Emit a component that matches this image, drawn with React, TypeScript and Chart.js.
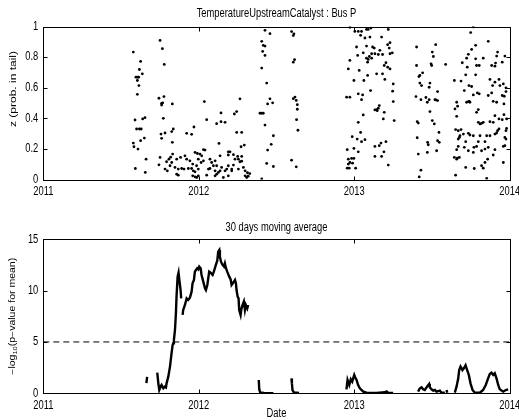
import React, { useEffect, useRef } from "react";
import { Chart, registerables } from "chart.js";

Chart.register(...registerables);

// ---------- data ----------
const topTitle = "TemperatureUpstreamCatalyst : Bus P";
const bottomTitle = "30 days moving average";
const xTickLabels = ["2011", "2012", "2013", "2014"];
const xTickValues = [2011, 2012, 2013, 2014];
const zTickValues = [0, 0.2, 0.4, 0.6, 0.8, 1];
const zTickLabels = ["0", "0.2", "0.4", "0.6", "0.8", "1"];
const pTickValues = [0, 5, 10, 15];
const pTickLabels = ["0", "5", "10", "15"];
const threshold = 5;

// scatter: z (prob. in tail)
const zYears = [
  2011.751, 2011.579, 2011.766, 2011.626, 2011.778, 2011.618, 2011.637, 2011.596, 2011.607, 2011.613,
  2011.605, 2011.615, 2011.605, 2011.744, 2011.776, 2011.761, 2011.768, 2011.761, 2011.830, 2011.590,
  2011.639, 2011.654, 2011.772, 2011.600, 2011.618, 2011.630, 2011.757, 2011.783, 2011.826, 2011.836,
  2011.761, 2011.626, 2011.650, 2011.830, 2011.922, 2011.954, 2011.969, 2011.579, 2011.583, 2011.609,
  2011.976, 2011.991, 2011.832, 2011.751, 2011.808, 2011.819, 2011.661, 2011.858, 2011.883, 2011.911,
  2011.793, 2011.826, 2011.922, 2011.943, 2011.961, 2011.744, 2011.783, 2011.798, 2011.815, 2011.847,
  2011.868, 2011.890, 2011.905, 2011.933, 2011.954, 2011.965, 2011.976, 2011.986, 2011.997, 2011.592,
  2011.656, 2011.858, 2011.868, 2011.961, 2011.976,
  2012.426, 2012.458, 2012.405, 2012.415, 2012.426, 2012.411, 2012.426, 2012.405, 2012.437, 2012.036,
  2012.265, 2012.443, 2012.458, 2012.475, 2012.143, 2012.244, 2012.229, 2012.394, 2012.405, 2012.415,
  2012.051, 2012.115, 2012.143, 2012.169, 2012.426, 2012.244, 2012.276, 2012.480, 2012.130, 2012.272,
  2012.293, 2012.443, 2012.030, 2012.040, 2012.190, 2012.201, 2012.137, 2012.190, 2012.223, 2012.250,
  2012.276, 2012.008, 2012.019, 2011.997, 2012.233, 2012.255, 2012.265, 2012.276, 2012.015, 2012.030,
  2012.072, 2012.083, 2012.105, 2012.094, 2012.115, 2012.147, 2012.180, 2012.190, 2012.212, 2012.223,
  2012.437, 2012.480, 2012.062, 2012.072, 2012.105, 2012.126, 2012.137, 2012.169, 2012.212, 2012.255,
  2012.287, 2012.298, 2012.051, 2012.105, 2012.115, 2012.158, 2012.190, 2012.298, 2012.308, 2011.987,
  2011.997, 2012.405, 2012.318, 2012.328, 2012.313, 2012.466,
  2012.597, 2012.612, 2012.608, 2012.616, 2012.608, 2012.619, 2012.608, 2012.627, 2012.634, 2012.634,
  2012.629, 2012.638, 2012.597, 2012.627,
  2012.972, 2013.004, 2013.026, 2013.047, 2013.079, 2013.090, 2013.107, 2013.219, 2013.041, 2013.069,
  2013.101, 2013.176, 2013.230, 2013.215, 2013.015, 2013.079, 2013.118, 2013.129, 2013.225, 2013.165,
  2013.058, 2013.112, 2013.133, 2013.155, 2013.182, 2013.245, 2013.230, 2013.022, 2013.097, 2013.112,
  2013.079, 2013.090, 2012.972, 2013.086, 2013.204, 2013.193, 2013.215, 2013.230, 2012.962, 2013.032,
  2013.144, 2013.182, 2013.086, 2013.197, 2012.998, 2013.062, 2013.251, 2013.247, 2013.105, 2013.026,
  2013.054, 2012.951, 2012.972, 2013.047, 2013.251, 2013.161, 2013.155, 2013.144, 2013.133, 2013.148,
  2013.193, 2013.058, 2013.187, 2013.026, 2013.257, 2013.041, 2012.987, 2013.019, 2013.069, 2013.047,
  2013.204, 2013.172, 2013.161, 2013.133, 2012.998, 2012.955, 2013.191, 2013.026, 2012.962, 2012.983,
  2012.998, 2013.133, 2013.176, 2012.972, 2012.989, 2012.962, 2012.968, 2013.219, 2012.955, 2013.009,
  2013.401, 2013.401, 2013.422, 2013.440, 2013.416, 2013.422, 2013.433, 2013.482, 2013.397, 2013.429,
  2013.461, 2013.470, 2013.482, 2013.405, 2013.412, 2013.405, 2013.472, 2013.476, 2013.470, 2013.412,
  2013.429, 2013.418,
  2013.524, 2013.502, 2013.509, 2013.494, 2013.498, 2013.588, 2013.487, 2013.536, 2013.519, 2013.536,
  2013.526, 2013.487, 2013.502, 2013.515, 2013.545, 2013.536, 2013.547, 2013.530,
  2013.766, 2013.749, 2013.781, 2013.755, 2013.862, 2013.922, 2013.916, 2013.734, 2013.723, 2013.695,
  2013.727, 2013.781, 2013.787, 2013.804, 2013.830, 2013.952, 2013.969, 2013.884, 2013.905, 2013.909,
  2013.717, 2013.781, 2013.687, 2013.644, 2013.873, 2013.931, 2013.905, 2013.890, 2013.937, 2013.959,
  2013.755, 2013.738, 2013.708, 2013.976, 2013.976, 2013.862, 2013.884, 2013.952, 2013.965, 2013.804,
  2013.792, 2013.766, 2013.723, 2013.734, 2013.740, 2013.744, 2013.659, 2013.894, 2013.916, 2013.963,
  2013.665, 2013.648, 2013.798, 2013.787, 2013.905, 2013.963, 2013.659, 2013.931, 2013.952, 2013.980,
  2013.873, 2013.894, 2013.798, 2013.809, 2013.819, 2013.830, 2013.980, 2013.976, 2013.931, 2013.652,
  2013.669, 2013.687, 2013.702, 2013.680, 2013.676, 2013.669, 2013.734, 2013.744, 2013.766, 2013.809,
  2013.852, 2013.873, 2013.905, 2013.916, 2013.922, 2013.969, 2013.976, 2013.717, 2013.798, 2013.841,
  2013.669, 2013.708, 2013.770, 2013.787, 2013.659, 2013.734, 2013.819, 2013.841, 2013.862, 2013.766,
  2013.905, 2013.969, 2013.959, 2013.644, 2013.663, 2013.676, 2013.659, 2013.894, 2013.858, 2013.841,
  2013.819, 2013.959, 2013.772, 2013.717, 2013.830, 2013.652, 2013.852,
];
const zValues = [
  0.909, 0.833, 0.855, 0.772, 0.752, 0.719, 0.691, 0.669, 0.669, 0.669,
  0.647, 0.614, 0.557, 0.531, 0.542, 0.498, 0.501, 0.487, 0.494, 0.389,
  0.396, 0.404, 0.400, 0.330, 0.330, 0.330, 0.297, 0.304, 0.313, 0.330,
  0.269, 0.254, 0.271, 0.243, 0.302, 0.295, 0.343, 0.238, 0.214, 0.199,
  0.177, 0.170, 0.166, 0.144, 0.133, 0.146, 0.133, 0.133, 0.144, 0.155,
  0.116, 0.111, 0.133, 0.122, 0.101, 0.096, 0.068, 0.057, 0.090, 0.079,
  0.068, 0.072, 0.068, 0.072, 0.072, 0.057, 0.050, 0.090, 0.068, 0.072,
  0.046, 0.035, 0.028, 0.024, 0.017,
  0.975, 0.953, 0.903, 0.876, 0.872, 0.837, 0.811, 0.728, 0.630, 0.509,
  0.527, 0.494, 0.527, 0.501, 0.435, 0.444, 0.428, 0.433, 0.433, 0.433,
  0.391, 0.365, 0.378, 0.374, 0.356, 0.308, 0.308, 0.286, 0.236, 0.214,
  0.225, 0.192, 0.195, 0.192, 0.181, 0.181, 0.155, 0.160, 0.162, 0.151,
  0.151, 0.166, 0.155, 0.133, 0.133, 0.133, 0.116, 0.120, 0.111, 0.122,
  0.133, 0.111, 0.122, 0.090, 0.090, 0.079, 0.068, 0.090, 0.068, 0.094,
  0.105, 0.085, 0.068, 0.072, 0.057, 0.046, 0.057, 0.057, 0.057, 0.068,
  0.079, 0.057, 0.028, 0.024, 0.035, 0.013, 0.024, 0.024, 0.013, 0.013,
  0.024, 0.004, 0.022, 0.039, 0.044, 0.230,
  0.967, 0.952, 0.941, 0.783, 0.767, 0.539, 0.528, 0.517, 0.489, 0.459,
  0.391, 0.322, 0.126, 0.083,
  0.995, 0.968, 0.968, 0.968, 0.981, 0.981, 0.990, 0.981, 0.942, 0.925,
  0.931, 0.931, 0.894, 0.881, 0.866, 0.872, 0.866, 0.859, 0.859, 0.844,
  0.828, 0.822, 0.822, 0.817, 0.817, 0.828, 0.822, 0.811, 0.804, 0.793,
  0.793, 0.785, 0.778, 0.767, 0.763, 0.745, 0.734, 0.723, 0.723, 0.713,
  0.691, 0.691, 0.680, 0.654, 0.647, 0.647, 0.625, 0.577, 0.581, 0.560,
  0.553, 0.538, 0.538, 0.522, 0.509, 0.483, 0.466, 0.457, 0.455, 0.450,
  0.439, 0.422, 0.396, 0.374, 0.385, 0.308, 0.280, 0.264, 0.260, 0.247,
  0.247, 0.238, 0.221, 0.216, 0.203, 0.195, 0.181, 0.181, 0.133, 0.138,
  0.138, 0.151, 0.151, 0.111, 0.107, 0.101, 0.074, 0.094, 0.074, 0.074,
  0.866, 0.745, 0.680, 0.697, 0.673, 0.630, 0.614, 0.603, 0.542, 0.522,
  0.536, 0.505, 0.522, 0.378, 0.369, 0.273, 0.243, 0.227, 0.177, 0.166,
  0.061, 0.017,
  0.881, 0.833, 0.804, 0.756, 0.745, 0.752, 0.630, 0.575, 0.522, 0.516,
  0.520, 0.444, 0.385, 0.363, 0.308, 0.254, 0.243, 0.188,
  0.997, 0.960, 0.877, 0.850, 0.903, 0.833, 0.807, 0.818, 0.793, 0.763,
  0.734, 0.789, 0.745, 0.745, 0.793, 0.767, 0.807, 0.745, 0.741, 0.761,
  0.684, 0.684, 0.643, 0.647, 0.654, 0.654, 0.636, 0.614, 0.614, 0.625,
  0.608, 0.614, 0.581, 0.599, 0.575, 0.549, 0.566, 0.549, 0.544, 0.560,
  0.566, 0.553, 0.505, 0.509, 0.511, 0.505, 0.505, 0.511, 0.505, 0.494,
  0.479, 0.461, 0.457, 0.439, 0.417, 0.424, 0.413, 0.396, 0.391, 0.396,
  0.378, 0.374, 0.374, 0.363, 0.367, 0.374, 0.334, 0.319, 0.330, 0.326,
  0.319, 0.326, 0.297, 0.286, 0.275, 0.264, 0.302, 0.291, 0.286, 0.286,
  0.286, 0.286, 0.297, 0.304, 0.319, 0.275, 0.264, 0.247, 0.247, 0.247,
  0.216, 0.210, 0.210, 0.216, 0.195, 0.188, 0.188, 0.199, 0.210, 0.177,
  0.195, 0.221, 0.216, 0.144, 0.140, 0.144, 0.133, 0.160, 0.133, 0.111,
  0.090, 0.111, 0.072, 0.079, 0.074, 0.028, 0.007,
];

// 30-day moving average of -log10(p); null = gap in the curve
const avgYears = [
  2011.663, 2011.668, 2011.67,
  2011.733, 2011.740, 2011.746, 2011.755, 2011.761, 2011.772, 2011.782, 2011.789, 2011.793, 2011.804,
  2011.815, 2011.825, 2011.832, 2011.836, 2011.840, 2011.847, 2011.853, 2011.857, 2011.864, 2011.870,
  2011.875, 2011.883, 2011.887, 2011.89,
  2011.896, 2011.900, 2011.911, 2011.922, 2011.932, 2011.943, 2011.954, 2011.960, 2011.969, 2011.975,
  2011.982, 2011.990, 2011.997, 2012.003, 2012.012, 2012.018, 2012.029, 2012.040, 2012.046, 2012.055,
  2012.061, 2012.067, 2012.076, 2012.089, 2012.097, 2012.110, 2012.119, 2012.125, 2012.132, 2012.136,
  2012.143, 2012.153, 2012.162, 2012.168, 2012.175, 2012.183, 2012.196, 2012.205, 2012.211, 2012.222,
  2012.233, 2012.239, 2012.243, 2012.250, 2012.256, 2012.260, 2012.269, 2012.275, 2012.282, 2012.290,
  2012.297, 2012.303, 2012.312, 2012.318, 2012.35,
  2012.386, 2012.389, 2012.395, 2012.420, 2012.480, 2012.55,
  2012.596, 2012.599, 2012.603, 2012.612, 2012.645, 2012.8,
  2012.950, 2012.957, 2012.968, 2012.978, 2012.987, 2013.000, 2013.006, 2013.015, 2013.025, 2013.036,
  2013.058, 2013.079, 2013.143, 2013.197, 2013.208, 2013.218, 2013.250, 2013.33,
  2013.411, 2013.422, 2013.433, 2013.443, 2013.454, 2013.465, 2013.476, 2013.482, 2013.486, 2013.497,
  2013.508, 2013.519, 2013.529, 2013.551, 2013.561, 2013.583, 2013.59,
  2013.594, 2013.598, 2013.62,
  2013.647, 2013.658, 2013.669, 2013.675, 2013.684, 2013.696, 2013.705, 2013.716, 2013.726, 2013.737,
  2013.748, 2013.761, 2013.776, 2013.808, 2013.829, 2013.846, 2013.861, 2013.872, 2013.883, 2013.894,
  2013.904, 2013.915, 2013.926, 2013.936, 2013.958, 2013.975, 2013.990,
];
const avgValues = [
  1.0, 1.6, null,
  2.01, 0.97, 0.32, 0.65, 0.81, 0.49, 0.65, 0.58, 0.97, 1.62,
  2.60, 3.90, 4.71, 4.87, 5.19, 6.17, 7.79, 9.42, 11.36, 11.75,
  11.04, 10.06, 9.25, null,
  7.63, 8.12, 8.60, 9.25, 9.09, 9.32, 9.90, 10.71, 11.04, 11.85,
  12.01, 12.18, 12.08, 12.34, 12.18, 11.53, 10.88, 10.23, 10.06, 10.55,
  11.20, 11.85, 11.75, 11.53, 11.85, 12.50, 12.92, 13.80, 13.96, 13.31,
  12.82, 12.50, 12.34, 12.66, 12.18, 11.85, 11.36, 11.10, 10.55, 10.78,
  11.04, 10.71, 10.06, 9.42, 9.25, 8.12, 7.63, 8.28, 8.60, 8.93,
  8.12, 8.60, 8.28, 8.60, null,
  1.3, 0.4, 0.08, 0.03, 0.02, null,
  1.45, 1.0, 0.3, 0.08, 0.04, null,
  0.39, 1.30, 0.81, 1.36, 1.14, 1.79, 1.56, 1.30, 0.81, 0.49,
  0.16, 0.06, 0.03, 0.10, 0.19, 0.06, 0.03, null,
  0.16, 0.49, 0.58, 0.39, 0.32, 0.58, 0.81, 0.91, 0.58, 0.39,
  0.26, 0.32, 0.16, 0.26, 0.06, 0.06, null,
  0.32, 0.06, null,
  0.06, 0.65, 1.46, 2.27, 2.60, 2.27, 2.44, 2.73, 2.27, 1.79,
  0.97, 0.32, 0.06, 0.06, 0.32, 0.81, 1.46, 1.88, 2.01, 1.79,
  1.95, 1.46, 0.81, 0.39, 0.16, 0.32, 0.39,
];

// ---------- drawing helpers ----------
const FONT = '"Liberation Sans", Arial, Helvetica, sans-serif';
const SX = 0.78; // horizontal squeeze of the reference's lettering
const W = 519;
const H = 210;

function txt(ctx: CanvasRenderingContext2D, s: string, x: number, y: number, size: number, align: CanvasTextAlign) {
  ctx.save();
  ctx.translate(x, y);
  ctx.scale(SX, 1);
  ctx.font = `${size}px ${FONT}`;
  ctx.textAlign = align;
  ctx.textBaseline = "middle";
  ctx.fillStyle = "#000";
  ctx.fillText(s, 0, 0);
  ctx.restore();
}

type Parts = { s: string; size: number; dy: number }[];
function vtxt(ctx: CanvasRenderingContext2D, parts: Parts, x: number, y: number) {
  ctx.save();
  ctx.translate(x, y);
  ctx.scale(SX, 1);
  ctx.rotate(-Math.PI / 2);
  ctx.fillStyle = "#000";
  ctx.textBaseline = "middle";
  ctx.textAlign = "left";
  let total = 0;
  for (const p of parts) {
    ctx.font = `${p.size}px ${FONT}`;
    total += ctx.measureText(p.s).width;
  }
  let cx = -total / 2;
  for (const p of parts) {
    ctx.font = `${p.size}px ${FONT}`;
    ctx.fillText(p.s, cx, p.dy);
    cx += ctx.measureText(p.s).width;
  }
  ctx.restore();
}

function framePlugin(cfg: {
  title: string;
  titleY: number;
  yTicks: number[];
  yLabels: string[];
  yLabel: Parts;
  yLabelCenter: number | null;
  xLabel?: string;
}) {
  return {
    id: "matlabFrame",
    afterDraw(chart: any) {
      const ctx: CanvasRenderingContext2D = chart.ctx;
      const a = chart.chartArea;
      const xs = chart.scales.x;
      const ys = chart.scales.y;
      const L = Math.round(a.left) + 0.5;
      const R = Math.round(a.right) + 0.5;
      const T = Math.round(a.top) + 0.5;
      const B = Math.round(a.bottom) + 0.5;
      ctx.save();
      ctx.strokeStyle = "#000";
      ctx.lineWidth = 1;
      ctx.strokeRect(L, T, R - L, B - T);
      const tl = 4;
      ctx.beginPath();
      for (const v of xTickValues) {
        const px = Math.round(xs.getPixelForValue(v)) + 0.5;
        ctx.moveTo(px, B);
        ctx.lineTo(px, B - tl);
        ctx.moveTo(px, T);
        ctx.lineTo(px, T + tl);
      }
      for (const v of cfg.yTicks) {
        const py = Math.round(ys.getPixelForValue(v)) + 0.5;
        ctx.moveTo(L, py);
        ctx.lineTo(L + tl, py);
        ctx.moveTo(R, py);
        ctx.lineTo(R - tl, py);
      }
      ctx.stroke();
      ctx.restore();

      xTickValues.forEach((v, i) => {
        txt(ctx, xTickLabels[i], xs.getPixelForValue(v), a.bottom + 12, 12, "center");
      });
      cfg.yTicks.forEach((v, i) => {
        txt(ctx, cfg.yLabels[i], a.left - 5, ys.getPixelForValue(v), 12, "right");
      });
      txt(ctx, cfg.title, (a.left + a.right) / 2, cfg.titleY, 12, "center");
      const cy = cfg.yLabelCenter ?? (a.top + a.bottom) / 2;
      vtxt(ctx, cfg.yLabel, 13, cy);
      if (cfg.xLabel) txt(ctx, cfg.xLabel, (a.left + a.right) / 2, a.bottom + 20, 12, "center");
    },
  };
}

function baseScales(yMin: number, yMax: number, xHeight: number) {
  return {
    x: {
      type: "linear" as const,
      min: 2011,
      max: 2014,
      grid: { display: false },
      border: { display: false },
      ticks: { display: false },
      afterFit: (s: any) => {
        s.height = xHeight;
      },
    },
    y: {
      type: "linear" as const,
      min: yMin,
      max: yMax,
      grid: { display: false },
      border: { display: false },
      ticks: { display: false },
      afterFit: (s: any) => {
        s.width = 43.3;
      },
    },
  };
}

export default function App() {
  const topRef = useRef<HTMLCanvasElement>(null);
  const botRef = useRef<HTMLCanvasElement>(null);

  useEffect(() => {
    const top = new Chart(topRef.current!, {
      type: "scatter",
      data: {
        datasets: [
          {
            data: zYears.map((x, i) => ({ x, y: zValues[i] })),
            pointRadius: 1.4,
            pointHoverRadius: 1.4,
            pointBackgroundColor: "#000",
            pointBorderWidth: 0,
            borderWidth: 0,
          },
        ],
      },
      options: {
        responsive: false,
        animation: false,
        devicePixelRatio: 1,
        layout: { padding: { top: 26.5, right: 9.3, left: 0, bottom: 0 } },
        plugins: { legend: { display: false }, tooltip: { enabled: false }, title: { display: false } },
        scales: baseScales(0, 1, 30.5) as any,
      },
      plugins: [
        framePlugin({
          title: topTitle,
          titleY: 14,
          yTicks: zTickValues,
          yLabels: zTickLabels,
          yLabel: [{ s: "z (prob. in tail)", size: 12, dy: 0 }],
          yLabelCenter: 89,
        }),
      ],
    });

    const bot = new Chart(botRef.current!, {
      type: "line",
      data: {
        datasets: [
          {
            data: avgYears.map((x, i) => ({ x, y: avgValues[i] })),
            borderColor: "#000",
            borderWidth: 2.4,
            pointRadius: 0,
            spanGaps: false,
            tension: 0,
            fill: false,
          },
          {
            data: [
              { x: 2011, y: threshold },
              { x: 2014, y: threshold },
            ],
            borderColor: "#000",
            borderWidth: 1,
            borderDash: [6, 4],
            pointRadius: 0,
            fill: false,
          },
        ],
      },
      options: {
        responsive: false,
        animation: false,
        devicePixelRatio: 1,
        layout: { padding: { top: 29.3, right: 9.3, left: 0, bottom: 0 } },
        plugins: { legend: { display: false }, tooltip: { enabled: false }, title: { display: false } },
        scales: baseScales(0, 15, 210 - 183.3) as any,
      },
      plugins: [
        framePlugin({
          title: bottomTitle,
          titleY: 18,
          yTicks: pTickValues,
          yLabels: pTickLabels,
          yLabel: [
            { s: "\u2212log", size: 10.5, dy: 0 },
            { s: "10", size: 7.5, dy: 3 },
            { s: "(p\u2212value for mean)", size: 10.5, dy: 0 },
          ],
          yLabelCenter: null,
          xLabel: "Date",
        }),
      ],
    });

    return () => {
      top.destroy();
      bot.destroy();
    };
  }, []);

  return (
    <div style={{ position: "absolute", left: 0, top: 0, width: W, height: 420, background: "#fff" }}>
      <canvas ref={topRef} width={W} height={H} style={{ position: "absolute", left: 0, top: 0, width: W, height: H }} />
      <canvas ref={botRef} width={W} height={H} style={{ position: "absolute", left: 0, top: H, width: W, height: H }} />
    </div>
  );
}
